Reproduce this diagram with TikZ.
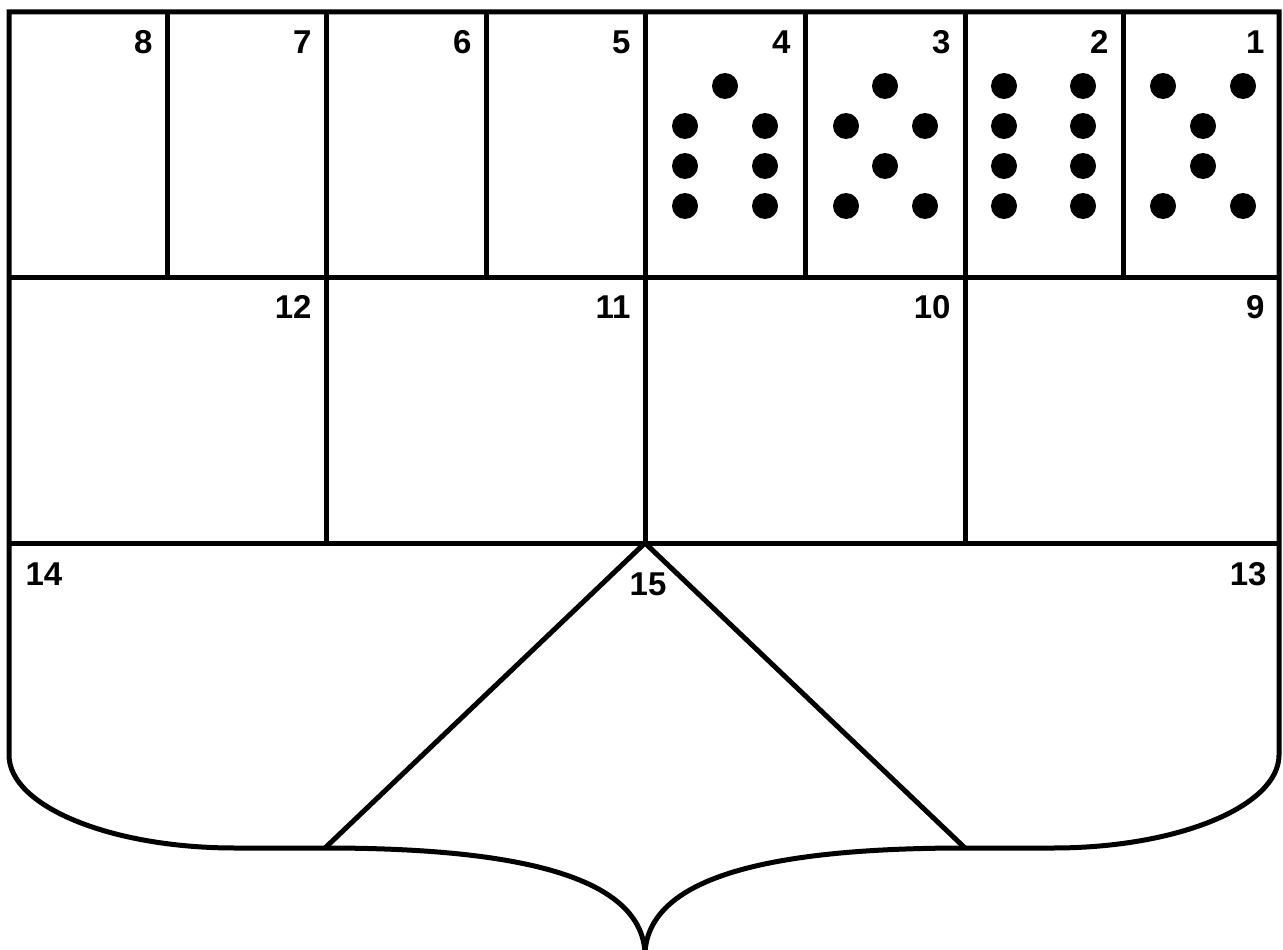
\documentclass[tikz,border=0pt]{standalone}
\usepackage{fontspec}
\setmainfont{Liberation Sans}
\usetikzlibrary{positioning}
\tikzset{
  num/.style={font=\bfseries\fontsize{33}{33}\selectfont, inner sep=0pt},
  pip/.style={fill=black},
}

\begin{document}
\begin{tikzpicture}[x=1pt, y=-1pt, line width=5pt]
  \useasboundingbox (0,0) rectangle (1283,950);
  % outline of the shield
  \draw (9,12) -- (9,755) .. controls (9,806) and (110,848) .. (235,848) -- (325,848)
    .. controls (530,848) and (640,880) .. (645,952)
    .. controls (650,880) and (760,848) .. (965,848) -- (1053,848)
    .. controls (1178,848) and (1279,806) .. (1279,755) -- (1279,12) -- cycle;

  % rows and cells
  \draw (9,277) -- (1279,277);
  \draw (9,543) -- (1279,543);
  \foreach \x in {167,326,486,645,805,965,1123} \draw (\x,12) -- (\x,277);
  \foreach \x in {326,645,965} \draw (\x,277) -- (\x,543);
  \draw (325,848) -- (645,543) -- (965,848);

  % numbers
  \foreach \n/\x in {8/167,7/326,6/486,5/645,4/805,3/965,2/1123,1/1279}
    \node[num, anchor=north east] (n\n) at (\x-12,28) {\n};
  \foreach \n/\x in {12/326,11/645,10/965,9/1279}
    \node[num, anchor=north east] (n\n) at (\x-12,293) {\n};
  \node[num, anchor=north west] (n14) at (23,560) {14};
  \node[num, anchor=north east] (n13) at (1269,560) {13};
  \node[num, anchor=north] (n15) at (648,570) {15};

  % pips
  \foreach \x/\y in {725/86, 685/126, 765/126, 685/166, 765/166, 685/206, 765/206}
    \fill[pip] (\x,\y) circle (13pt);
  \foreach \x/\y in {885/86, 846/126, 925/126, 885/166, 846/206, 925/206}
    \fill[pip] (\x,\y) circle (13pt);
  \foreach \y in {86,126,166,206} {
    \fill[pip] (1004,\y) circle (13pt);
    \fill[pip] (1083,\y) circle (13pt);
  }
  \foreach \x/\y in {1163/86, 1243/86, 1203/126, 1203/166, 1163/206, 1243/206}
    \fill[pip] (\x,\y) circle (13pt);
\end{tikzpicture}
\end{document}
